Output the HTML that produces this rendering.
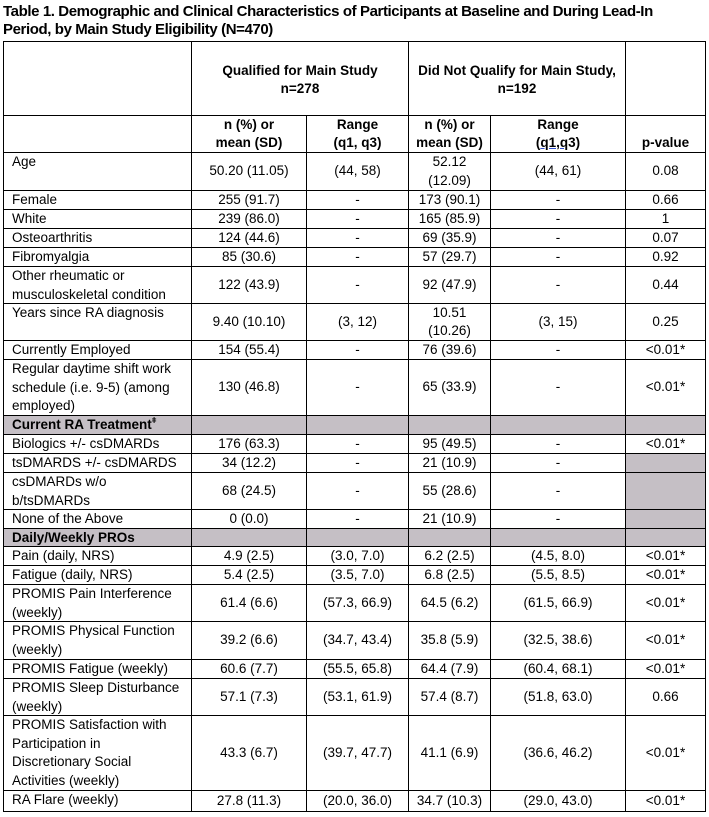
<!DOCTYPE html>
<html>
<head>
<meta charset="utf-8">
<style>
html,body{margin:0;padding:0;background:#fff;}
body{width:709px;height:817px;position:relative;overflow:hidden;font-family:"Liberation Sans",Arial,sans-serif;color:#000;}
.title{position:absolute;left:3px;top:3px;font-size:15px;font-weight:bold;line-height:18px;letter-spacing:-0.4px;white-space:nowrap;}
.ln{position:absolute;background:#000;}
.r{position:absolute;left:0;width:709px;}
.c{position:absolute;top:0;height:100%;box-sizing:border-box;border-right:1px solid #000;border-bottom:1px solid #000;display:flex;flex-direction:column;justify-content:center;align-items:center;text-align:center;white-space:nowrap;font-size:13.5px;line-height:18.5px;}
.l{align-items:flex-start;justify-content:flex-start;text-align:left;padding-left:8px;}
.b{font-weight:bold;}
.s{background:#c5bfc5;}
.bot{justify-content:flex-end;}
.k0{left:4px;width:188px;}
.k1{left:192px;width:115px;}
.k2{left:307px;width:102px;}
.k3{left:409px;width:82px;}
.k4{left:491px;width:135px;}
.k5{left:626px;width:80px;}
.k12{left:192px;width:217px;}
.k34{left:409px;width:217px;}
sup{font-size:8px;line-height:0;vertical-align:6px;}
</style>
</head>
<body>
<div class="title">Table 1. Demographic and Clinical Characteristics of Participants at Baseline and During Lead-In<br>Period, by Main Study Eligibility (N=470)</div>

<div class="ln" style="left:3px;top:41px;width:703px;height:1px;"></div>
<div class="ln" style="left:3px;top:41px;width:1px;height:771px;"></div>

<!-- header 1 -->
<div class="r" style="top:42px;height:74px;">
  <div class="c k0"></div>
  <div class="c k12 b" style="padding-top:3px;"><div>Qualified for Main Study</div><div>n=278</div></div>
  <div class="c k34 b" style="padding-top:3px;"><div>Did Not Qualify for Main Study,</div><div>n=192</div></div>
  <div class="c k5"></div>
</div>
<!-- header 2 -->
<div class="r" style="top:116px;height:37px;">
  <div class="c k0"></div>
  <div class="c k1 b"><div>n (%) or</div><div>mean (SD)</div></div>
  <div class="c k2 b"><div>Range</div><div>(q1, q3)</div></div>
  <div class="c k3 b"><div>n (%) or</div><div>mean (SD)</div></div>
  <div class="c k4 b"><div>Range</div><div>(<span style="text-decoration:underline;text-decoration-color:#3050d0;">q1,q</span>3)</div></div>
  <div class="c k5 b bot"><div>p-value</div></div>
</div>

<div class="r" style="top:153px;height:38px;">
  <div class="c k0 l">Age</div>
  <div class="c k1">50.20 (11.05)</div>
  <div class="c k2">(44, 58)</div>
  <div class="c k3"><div>52.12</div><div>(12.09)</div></div>
  <div class="c k4">(44, 61)</div>
  <div class="c k5">0.08</div>
</div>
<div class="r" style="top:191px;height:19px;">
  <div class="c k0 l">Female</div>
  <div class="c k1">255 (91.7)</div>
  <div class="c k2">-</div>
  <div class="c k3">173 (90.1)</div>
  <div class="c k4">-</div>
  <div class="c k5">0.66</div>
</div>
<div class="r" style="top:210px;height:19px;">
  <div class="c k0 l">White</div>
  <div class="c k1">239 (86.0)</div>
  <div class="c k2">-</div>
  <div class="c k3">165 (85.9)</div>
  <div class="c k4">-</div>
  <div class="c k5">1</div>
</div>
<div class="r" style="top:229px;height:19px;">
  <div class="c k0 l">Osteoarthritis</div>
  <div class="c k1">124 (44.6)</div>
  <div class="c k2">-</div>
  <div class="c k3">69 (35.9)</div>
  <div class="c k4">-</div>
  <div class="c k5">0.07</div>
</div>
<div class="r" style="top:248px;height:19px;">
  <div class="c k0 l">Fibromyalgia</div>
  <div class="c k1">85 (30.6)</div>
  <div class="c k2">-</div>
  <div class="c k3">57 (29.7)</div>
  <div class="c k4">-</div>
  <div class="c k5">0.92</div>
</div>
<div class="r" style="top:267px;height:37px;">
  <div class="c k0 l"><div>Other rheumatic or</div><div>musculoskeletal condition</div></div>
  <div class="c k1">122 (43.9)</div>
  <div class="c k2">-</div>
  <div class="c k3">92 (47.9)</div>
  <div class="c k4">-</div>
  <div class="c k5">0.44</div>
</div>
<div class="r" style="top:304px;height:37px;">
  <div class="c k0 l">Years since RA diagnosis</div>
  <div class="c k1">9.40 (10.10)</div>
  <div class="c k2">(3, 12)</div>
  <div class="c k3"><div>10.51</div><div>(10.26)</div></div>
  <div class="c k4">(3, 15)</div>
  <div class="c k5">0.25</div>
</div>
<div class="r" style="top:341px;height:19px;">
  <div class="c k0 l">Currently Employed</div>
  <div class="c k1">154 (55.4)</div>
  <div class="c k2">-</div>
  <div class="c k3">76 (39.6)</div>
  <div class="c k4">-</div>
  <div class="c k5">&lt;0.01*</div>
</div>
<div class="r" style="top:360px;height:56px;">
  <div class="c k0 l"><div>Regular daytime shift work</div><div>schedule (i.e. 9-5) (among</div><div>employed)</div></div>
  <div class="c k1">130 (46.8)</div>
  <div class="c k2">-</div>
  <div class="c k3">65 (33.9)</div>
  <div class="c k4">-</div>
  <div class="c k5">&lt;0.01*</div>
</div>
<div class="r" style="top:416px;height:19px;">
  <div class="c k0 l b s"><div>Current RA Treatment<sup>ǂ</sup></div></div>
  <div class="c k1 s"></div>
  <div class="c k2 s"></div>
  <div class="c k3 s"></div>
  <div class="c k4 s"></div>
  <div class="c k5 s"></div>
</div>
<div class="r" style="top:435px;height:19px;">
  <div class="c k0 l">Biologics +/- csDMARDs</div>
  <div class="c k1">176 (63.3)</div>
  <div class="c k2">-</div>
  <div class="c k3">95 (49.5)</div>
  <div class="c k4">-</div>
  <div class="c k5">&lt;0.01*</div>
</div>
<div class="r" style="top:454px;height:19px;">
  <div class="c k0 l">tsDMARDS +/- csDMARDS</div>
  <div class="c k1">34 (12.2)</div>
  <div class="c k2">-</div>
  <div class="c k3">21 (10.9)</div>
  <div class="c k4">-</div>
  <div class="c k5 s"></div>
</div>
<div class="r" style="top:473px;height:37px;">
  <div class="c k0 l"><div>csDMARDs w/o</div><div>b/tsDMARDs</div></div>
  <div class="c k1">68 (24.5)</div>
  <div class="c k2">-</div>
  <div class="c k3">55 (28.6)</div>
  <div class="c k4">-</div>
  <div class="c k5 s"></div>
</div>
<div class="r" style="top:510px;height:19px;">
  <div class="c k0 l">None of the Above</div>
  <div class="c k1">0 (0.0)</div>
  <div class="c k2">-</div>
  <div class="c k3">21 (10.9)</div>
  <div class="c k4">-</div>
  <div class="c k5 s"></div>
</div>
<div class="r" style="top:529px;height:18px;">
  <div class="c k0 l b s">Daily/Weekly PROs</div>
  <div class="c k1 s"></div>
  <div class="c k2 s"></div>
  <div class="c k3 s"></div>
  <div class="c k4 s"></div>
  <div class="c k5 s"></div>
</div>
<div class="r" style="top:547px;height:19px;">
  <div class="c k0 l">Pain (daily, NRS)</div>
  <div class="c k1">4.9 (2.5)</div>
  <div class="c k2">(3.0, 7.0)</div>
  <div class="c k3">6.2 (2.5)</div>
  <div class="c k4">(4.5, 8.0)</div>
  <div class="c k5">&lt;0.01*</div>
</div>
<div class="r" style="top:566px;height:19px;">
  <div class="c k0 l">Fatigue (daily, NRS)</div>
  <div class="c k1">5.4 (2.5)</div>
  <div class="c k2">(3.5, 7.0)</div>
  <div class="c k3">6.8 (2.5)</div>
  <div class="c k4">(5.5, 8.5)</div>
  <div class="c k5">&lt;0.01*</div>
</div>
<div class="r" style="top:585px;height:37px;">
  <div class="c k0 l"><div>PROMIS Pain Interference</div><div>(weekly)</div></div>
  <div class="c k1">61.4 (6.6)</div>
  <div class="c k2">(57.3, 66.9)</div>
  <div class="c k3">64.5 (6.2)</div>
  <div class="c k4">(61.5, 66.9)</div>
  <div class="c k5">&lt;0.01*</div>
</div>
<div class="r" style="top:622px;height:38px;">
  <div class="c k0 l"><div>PROMIS Physical Function</div><div>(weekly)</div></div>
  <div class="c k1">39.2 (6.6)</div>
  <div class="c k2">(34.7, 43.4)</div>
  <div class="c k3">35.8 (5.9)</div>
  <div class="c k4">(32.5, 38.6)</div>
  <div class="c k5">&lt;0.01*</div>
</div>
<div class="r" style="top:660px;height:19px;">
  <div class="c k0 l">PROMIS Fatigue (weekly)</div>
  <div class="c k1">60.6 (7.7)</div>
  <div class="c k2">(55.5, 65.8)</div>
  <div class="c k3">64.4 (7.9)</div>
  <div class="c k4">(60.4, 68.1)</div>
  <div class="c k5">&lt;0.01*</div>
</div>
<div class="r" style="top:679px;height:37px;">
  <div class="c k0 l"><div>PROMIS Sleep Disturbance</div><div>(weekly)</div></div>
  <div class="c k1">57.1 (7.3)</div>
  <div class="c k2">(53.1, 61.9)</div>
  <div class="c k3">57.4 (8.7)</div>
  <div class="c k4">(51.8, 63.0)</div>
  <div class="c k5">0.66</div>
</div>
<div class="r" style="top:716px;height:75px;">
  <div class="c k0 l"><div>PROMIS Satisfaction with</div><div>Participation in</div><div>Discretionary Social</div><div>Activities (weekly)</div></div>
  <div class="c k1">43.3 (6.7)</div>
  <div class="c k2">(39.7, 47.7)</div>
  <div class="c k3">41.1 (6.9)</div>
  <div class="c k4">(36.6, 46.2)</div>
  <div class="c k5">&lt;0.01*</div>
</div>
<div class="r" style="top:791px;height:21px;">
  <div class="c k0 l">RA Flare (weekly)</div>
  <div class="c k1">27.8 (11.3)</div>
  <div class="c k2">(20.0, 36.0)</div>
  <div class="c k3">34.7 (10.3)</div>
  <div class="c k4">(29.0, 43.0)</div>
  <div class="c k5">&lt;0.01*</div>
</div>
</body>
</html>
